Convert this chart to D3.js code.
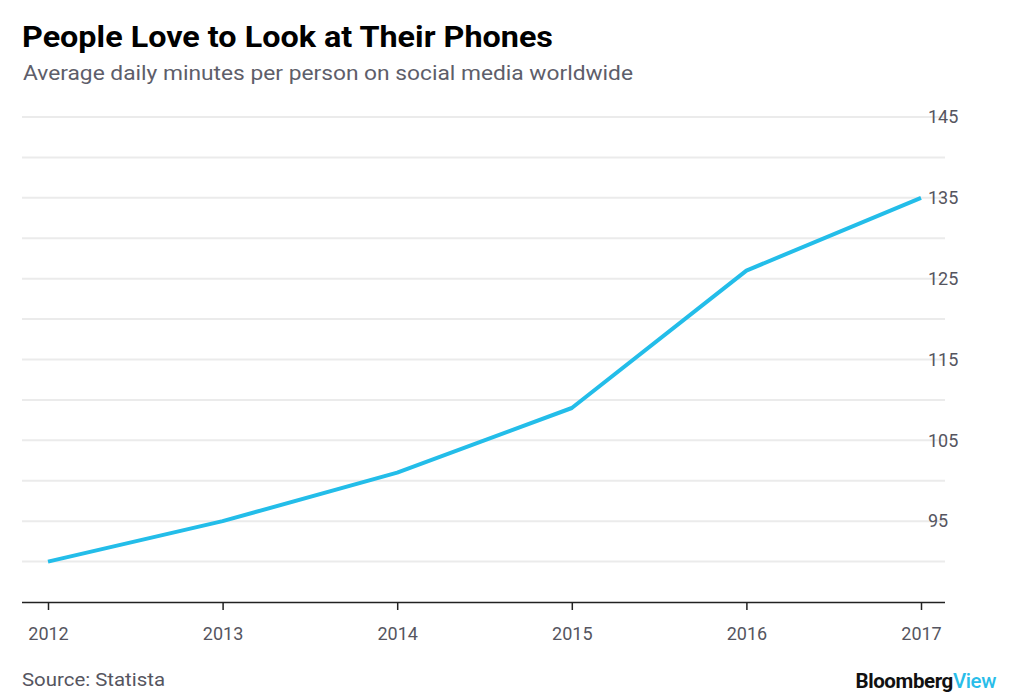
<!DOCTYPE html>
<html><head><meta charset="utf-8">
<script src="https://cdn.jsdelivr.net/npm/d3@7"></script>
<style>body{margin:0;background:#fff;}svg{display:block;}</style>
</head><body>
<svg id="c" width="1014" height="700"></svg>
<script>
const years = [2012, 2013, 2014, 2015, 2016, 2017];
const minutes = [90, 95, 101, 109, 126, 135];
const yTicks = [95, 105, 115, 125, 135, 145];
const gridValues = [90, 95, 100, 105, 110, 115, 120, 125, 130, 135, 140, 145];

const svg = d3.select("#c");
const font = "Roboto, 'Liberation Sans', sans-serif";
const x = d3.scalePoint().domain(years).range([48, 921]);
const y = d3.scaleLinear().domain([85, 145]).range([602, 117]);

svg.append("text").attr("x", 22).attr("y", 47).text("People Love to Look at Their Phones")
  .attr("font-family", font).attr("font-weight", 700).attr("font-size", 29)
  .attr("textLength", 531).attr("lengthAdjust", "spacingAndGlyphs").attr("fill", "#000");
svg.append("text").attr("x", 23).attr("y", 80).text("Average daily minutes per person on social media worldwide")
  .attr("font-family", font).attr("font-size", 20)
  .attr("textLength", 610).attr("lengthAdjust", "spacingAndGlyphs").attr("fill", "#5e5e6a");

svg.append("g").selectAll("line").data(gridValues).join("line")
  .attr("x1", 22).attr("x2", 945).attr("y1", d => y(d)).attr("y2", d => y(d))
  .attr("stroke", "#ebebeb").attr("stroke-width", 2);

const ya = svg.append("g").attr("transform", "translate(928,0)")
  .call(d3.axisRight(y).tickValues(yTicks).tickSize(0).tickPadding(0));
ya.select(".domain").remove();
ya.selectAll("text").attr("font-family", font).attr("font-size", 18).attr("fill", "#555560").attr("x", 0).attr("text-anchor", "start");

const xa = svg.append("g").attr("transform", "translate(0,602)")
  .call(d3.axisBottom(x).tickSize(8).tickPadding(17).tickFormat(d3.format("d")));
xa.select(".domain").attr("d", "M22,0.5H945").attr("stroke", "#222").attr("stroke-width", 1.5);
xa.selectAll(".tick line").attr("stroke", "#222").attr("stroke-width", 1.5);
xa.selectAll("text").attr("font-family", font).attr("font-size", 18).attr("fill", "#555560");

const line = d3.line().x((d, i) => x(years[i])).y(d => y(d));
svg.append("path").datum(minutes).attr("d", line).attr("fill", "none")
  .attr("stroke", "#23bde9").attr("stroke-width", 4).attr("stroke-linejoin", "round");

svg.append("text").attr("x", 22).attr("y", 686).text("Source: Statista")
  .attr("font-family", font).attr("font-size", 18.5)
  .attr("textLength", 143).attr("lengthAdjust", "spacingAndGlyphs").attr("fill", "#555560");
const bv = svg.append("text").attr("x", 996).attr("y", 688).attr("text-anchor", "end")
  .attr("font-family", font).attr("font-size", 20.5).attr("font-weight", 700).attr("letter-spacing", -0.4);
bv.append("tspan").text("Bloomberg").attr("fill", "#111");
bv.append("tspan").text("View").attr("fill", "#29bde9").attr("font-weight", 500);
</script>
</body></html>
